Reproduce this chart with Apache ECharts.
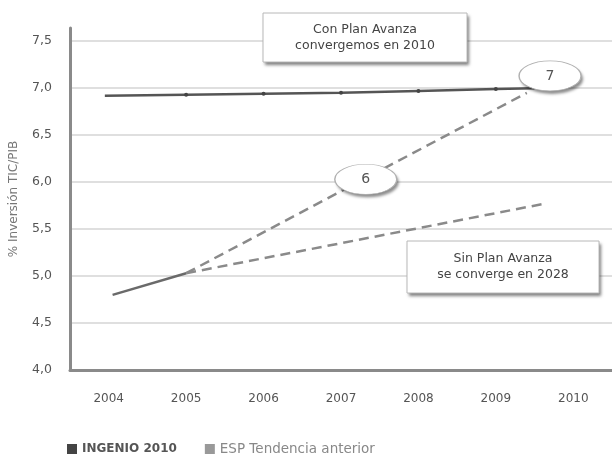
<!DOCTYPE html>
<html>
<head>
<meta charset="utf-8">
<script src="https://cdn.jsdelivr.net/npm/echarts@6/dist/echarts.min.js"></script>
<style>
  html, body { margin: 0; padding: 0; background: #fff; }
  #chart { width: 612px; height: 456px; }
</style>
</head>
<body>
<div id="chart"></div>
<script>
// categories (x axis labels)
var years = ['2004', '2005', '2006', '2007', '2008', '2009', '2010'];
// x positions are category index (0 = 2004)
var ingenio = [[-0.05, 6.92], [1, 6.93], [2, 6.94], [3, 6.95], [4, 6.97], [5, 6.99], [5.5, 7.0]];
var historico = [[0.05, 4.8], [1, 5.03]];
var conPlan = [[1, 5.03], [5.4, 6.95]];
var sinPlan = [[1, 5.03], [5.63, 5.77]];
var bubbles = [[5.7, 7.13, '7'], [3.32, 6.03, '6']];

var font = 'DejaVu Sans';
var myChart = echarts.init(document.getElementById('chart'));

function box(x, y, w, h, lines) {
  return [
    { type: 'rect', shape: { x: x, y: y, width: w, height: h }, z: 10,
      style: { fill: '#fff', shadowColor: 'rgba(0,0,0,0.5)', shadowBlur: 3, shadowOffsetX: 2, shadowOffsetY: 3 } },
    { type: 'rect', shape: { x: x, y: y, width: w, height: h }, z: 11,
      style: { fill: null, stroke: '#b8b8b8', lineWidth: 1 } },
    { type: 'text', z: 12,
      style: { x: x + w / 2, y: y + h / 2, text: lines, font: '12.5px "' + font + '"', fill: '#444',
        align: 'center', verticalAlign: 'middle', lineHeight: 16 } }
  ];
}

var bubbleBase = {
  type: 'scatter', xAxisIndex: 1, data: bubbles,
  symbol: 'circle', symbolSize: [62, 30], emphasis: { disabled: true }, silent: true
};

myChart.setOption({
  animation: false,
  textStyle: { fontFamily: font },
  grid: { left: 68, top: 28, width: 547, height: 342 },
  legend: {
    left: 62, top: 437,
    icon: 'rect', itemWidth: 10, itemHeight: 10, itemGap: 28, itemStyle: { borderWidth: 0 },
    data: [
      { name: 'INGENIO 2010', textStyle: { fontWeight: 'bold', color: '#555', fontSize: 12 } },
      { name: 'ESP Tendencia anterior', textStyle: { color: '#888', fontSize: 13.5 } }
    ]
  },
  xAxis: [
    {
      type: 'category', data: years, boundaryGap: true,
      axisLine: { lineStyle: { color: '#8a8a8a', width: 3 } },
      axisTick: { length: 5, lineStyle: { color: '#8a8a8a', width: 2 } },
      axisLabel: { color: '#555', fontSize: 12, margin: 23 }
    },
    { type: 'value', min: -0.5, max: 6.5, show: false }
  ],
  yAxis: {
    type: 'value', min: 4.0, max: 7.64, interval: 0.5,
    name: '% Inversión TIC/PIB', nameLocation: 'middle', nameGap: 50,
    nameTextStyle: { color: '#777', fontSize: 12 },
    axisLine: { show: true, onZero: false, lineStyle: { color: '#8a8a8a', width: 3 } },
    axisTick: { show: false },
    axisLabel: { color: '#555', fontSize: 12.5, margin: 18, showMaxLabel: false,
      formatter: function (v) { return v.toFixed(1).replace('.', ','); } },
    splitLine: { showMaxLine: false, lineStyle: { color: '#d4d4d4', width: 1.5 } }
  },
  series: [
    {
      name: 'INGENIO 2010', type: 'line', xAxisIndex: 1,
      data: ingenio.map(function (d, i) {
        return (i === 0 || i === ingenio.length - 1) ? { value: d, symbol: 'none' } : d;
      }),
      symbol: 'circle', symbolSize: 4,
      itemStyle: { color: '#444' },
      lineStyle: { color: '#555', width: 2.5 },
      z: 3
    },
    {
      name: 'ESP Tendencia anterior', type: 'line', xAxisIndex: 1,
      data: historico, symbol: 'none',
      itemStyle: { color: '#999' },
      lineStyle: { color: '#6a6a6a', width: 2.5 }
    },
    {
      name: 'Con Plan', type: 'line', xAxisIndex: 1,
      data: conPlan, symbol: 'none',
      lineStyle: { color: '#8a8a8a', width: 2.5, type: [10, 6] }
    },
    {
      name: 'Sin Plan', type: 'line', xAxisIndex: 1,
      data: sinPlan, symbol: 'none',
      lineStyle: { color: '#8a8a8a', width: 2.5, type: [10, 6] }
    },
    Object.assign({}, bubbleBase, {
      name: 'HitosFondo', z: 5,
      itemStyle: { color: '#fff', opacity: 1,
        shadowColor: 'rgba(0,0,0,0.45)', shadowBlur: 3, shadowOffsetX: 2, shadowOffsetY: 3 }
    }),
    Object.assign({}, bubbleBase, {
      name: 'Hitos', z: 6,
      itemStyle: { color: 'rgba(255,255,255,0)', opacity: 1, borderColor: '#b0b0b0', borderWidth: 1 },
      label: { show: true, position: 'inside', color: '#555', fontSize: 14,
        formatter: function (p) { return p.data[2]; } }
    })
  ],
  graphic: box(263, 13, 204, 49, 'Con Plan Avanza\nconvergemos en 2010')
    .concat(box(407, 241, 192, 52, 'Sin Plan Avanza\nse converge en 2028'))
});
</script>
</body>
</html>
